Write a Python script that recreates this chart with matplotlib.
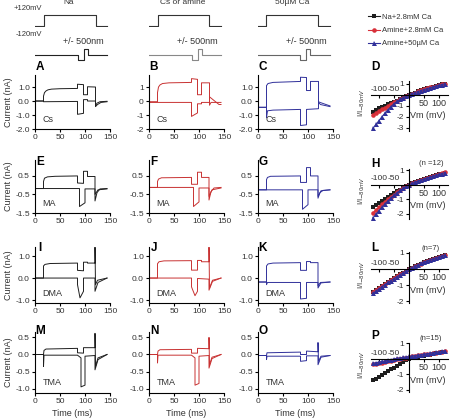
import numpy as np
import matplotlib
matplotlib.use('Agg')
import matplotlib.pyplot as plt
from matplotlib.lines import Line2D

plt.rcParams['font.family'] = ['Liberation Sans', 'DejaVu Sans']
plt.rcParams['font.size'] = 6

W, H = 456, 420
BLACK = '#1e1e1e'
RED = '#c83232'
BLUE = '#30309a'
TXT = '#333333'

# ---- stimulus protocol (ms, mV, nm)
prot_t = [0, 17, 17, 121, 121, 144]
prot_mv = [0, 0, 120, 120, 0, 0]
disp_t = [0, 85, 85, 97, 97, 105, 105, 144]
disp_nm = [0, 0, -500, -500, 500, 500, 0, 0]

# ---- current traces, (time ms, current nA) vertices
# row 1: Cs
A_up = [(0, 0), (17, 0), (17, 0.35), (19, 0.6), (22, 0.72), (26, 0.8), (33, 0.85), (50, 0.88), (85, 0.9),
        (85, 1.2), (97, 1.17), (97, 0.45), (105, 0.45), (105, 1.02), (121, 1.0), (121, -0.35), (124, -0.15),
        (130, -0.05), (144, -0.02)]
A_dn = [(0, 0), (17, 0), (17, -0.05), (85, -0.03), (85, -0.95), (97, -0.88), (97, 0.1), (105, 0.1), (105, 0.0),
        (121, 0.0), (121, -0.4), (125, -0.25), (132, -0.1), (144, -0.05)]
B_up = [(0, -0.05), (17, -0.05), (17, 0.6), (19, 1.0), (22, 1.15), (27, 1.25), (40, 1.3), (85, 1.33),
        (85, 1.6), (97, 1.55), (97, 0.45), (105, 0.45), (105, 1.3), (121, 1.3), (121, -0.3), (124, -0.1),
        (144, -0.1)]
B_dn = [(0, -0.1), (85, -0.1), (85, -1.1), (97, -0.85), (97, -0.2), (105, -0.2), (105, -0.1), (121, -0.1),
        (121, 0.3), (140, -0.25), (144, -0.25)]
C_up = [(0, -0.45), (17, -0.45), (17, 1.1), (20, 1.25), (30, 1.33), (85, 1.4), (85, 1.7), (97, 1.68),
        (97, 0.75), (105, 0.75), (105, 1.4), (121, 1.4), (121, -0.1), (125, -0.25), (144, -0.4)]
C_dn = [(0, -0.45), (17, -0.45), (17, -1.2), (19, -0.7), (30, -0.65), (85, -0.6), (85, -1.75), (97, -1.7),
        (97, -0.6), (121, -0.55), (121, -0.05), (124, -0.1), (144, -0.35)]
# row 2: MA
E_up = [(0, -0.18), (17, -0.18), (17, 0.2), (19, 0.38), (25, 0.45), (40, 0.48), (85, 0.5), (85, 0.12),
        (97, 0.1), (97, 0.75), (105, 0.75), (105, 0.47), (120, 0.47), (120, -0.85), (124, -0.4), (130, -0.2),
        (144, -0.18)]
E_dn = [(0, -0.18), (89, -0.18), (89, -1.15), (100, -0.95), (100, -0.2), (120, -0.2), (120, -0.5), (126, -0.25),
        (144, -0.2)]
F_up = [(0, -0.12), (17, -0.12), (17, 0.2), (19, 0.33), (25, 0.4), (85, 0.42), (85, 0.05), (97, 0.05),
        (97, 0.7), (105, 0.7), (105, 0.42), (120, 0.42), (120, -0.8), (124, -0.35), (130, -0.15), (144, -0.12)]
F_dn = [(0, -0.12), (89, -0.12), (89, -1.15), (100, -0.9), (100, -0.15), (120, -0.15), (120, -0.6),
        (126, -0.25), (144, -0.15)]
G_up = [(0, -0.25), (17, -0.25), (17, 0.3), (19, 0.42), (25, 0.48), (85, 0.5), (85, 0.15), (97, 0.15),
        (97, 0.95), (105, 0.95), (105, 0.5), (120, 0.5), (120, -0.7), (124, -0.4), (130, -0.28), (144, -0.25)]
G_dn = [(0, -0.25), (89, -0.25), (89, -1.3), (100, -1.05), (100, -0.25), (120, -0.25), (120, -0.6),
        (126, -0.3), (144, -0.25)]
# row 3: DMA
I_up = [(0, 0), (17, 0), (17, 0.55), (20, 0.62), (30, 0.66), (85, 0.68), (85, 0.35), (97, 0.33), (97, 0.72),
        (105, 0.72), (105, 0.68), (120, 0.68), (120, 1.4), (121, -0.3), (125, -0.1), (144, 0)]
I_dn = [(0, 0), (85, 0), (85, -0.3), (90, -0.9), (97, -0.6), (97, 0), (120, 0), (120, -0.6), (126, -0.2),
        (144, 0)]
J_up = [(0, 0), (17, 0), (17, 0.65), (20, 0.74), (30, 0.78), (85, 0.79), (85, 0.36), (97, 0.36), (97, 0.8),
        (105, 0.8), (105, 0.74), (120, 0.74), (120, 1.4), (121, -0.45), (127, -0.1), (144, 0)]
J_dn = [(0, 0), (85, 0), (85, -0.4), (92, -0.8), (97, -0.6), (97, -0.02), (120, -0.05), (120, -0.55),
        (127, -0.15), (144, 0)]
K_up = [(0, -0.18), (17, -0.18), (17, 0.55), (20, 0.64), (30, 0.68), (85, 0.7), (85, 0.35), (97, 0.35),
        (97, 0.75), (105, 0.75), (105, 0.7), (120, 0.7), (120, -0.35), (125, -0.2), (144, -0.18)]
K_dn = [(0, -0.18), (17, -0.18), (17, -0.3), (19, -0.2), (85, -0.2), (85, -0.95), (97, -0.92), (97, -0.2),
        (120, -0.2), (120, -0.45), (126, -0.22), (144, -0.18)]
# row 4: TMA
M_up = [(0, 0), (17, 0), (18, 0.12), (22, 0.16), (85, 0.18), (85, 0.05), (97, 0.04), (97, 0.2), (120, 0.2),
        (120, 0.62), (121, -0.35), (126, -0.1), (144, 0)]
M_dn = [(0, 0), (17, 0), (17, -0.35), (18, -0.02), (85, -0.02), (92, -0.1), (92, -0.95), (100, -0.9),
        (100, -0.05), (120, -0.03), (120, -0.45), (126, -0.15), (144, 0)]
N_up = [(0, 0), (17, 0), (18, 0.1), (22, 0.14), (85, 0.15), (85, 0.04), (97, 0.04), (97, 0.18), (120, 0.17),
        (120, 0.5), (121, -0.3), (126, -0.08), (144, 0)]
N_dn = [(0, 0), (17, 0), (17, -0.25), (18, -0.02), (85, -0.02), (92, -0.1), (92, -0.9), (100, -0.85),
        (100, -0.05), (120, -0.03), (120, -0.4), (126, -0.12), (144, 0)]
O_up = [(0, -0.03), (17, -0.03), (18, 0.05), (85, 0.07), (85, 0.0), (97, 0.0), (97, 0.1), (120, 0.08),
        (120, 0.35), (121, -0.2), (126, -0.05), (144, -0.03)]
O_dn = [(0, -0.03), (17, -0.03), (17, -0.15), (18, -0.05), (85, -0.05), (85, -0.2), (97, -0.18), (97, -0.04),
        (120, -0.04), (120, -0.3), (126, -0.08), (144, -0.03)]

# ---- normalised I-V (I / I-80mV)
vm = [-120, -110, -100, -90, -80, -70, -60, -50, -40, -30, -20, -10, 0,
      10, 20, 30, 40, 50, 60, 70, 80, 90, 100, 110, 120]
D_na = [-1.55, -1.40, -1.25, -1.12, -1.0, -0.88, -0.77, -0.66, -0.55, -0.42, -0.29, -0.15, 0.0,
        0.1, 0.2, 0.3, 0.39, 0.48, 0.57, 0.65, 0.73, 0.8, 0.87, 0.94, 1.0]
D_am = [-1.85, -1.68, -1.5, -1.33, -1.17, -1.0, -0.85, -0.7, -0.56, -0.42, -0.28, -0.14, 0.0,
        0.1, 0.2, 0.3, 0.4, 0.49, 0.58, 0.66, 0.74, 0.82, 0.89, 0.96, 1.02]
D_lo = [-3.05, -2.7, -2.35, -2.0, -1.67, -1.36, -1.08, -0.82, -0.6, -0.42, -0.27, -0.13, 0.0,
        0.1, 0.2, 0.29, 0.38, 0.47, 0.55, 0.63, 0.71, 0.79, 0.86, 0.93, 1.0]
H_na = [-1.55, -1.42, -1.28, -1.14, -1.0, -0.87, -0.74, -0.61, -0.48, -0.36, -0.24, -0.12, 0.0,
        0.08, 0.16, 0.24, 0.31, 0.38, 0.45, 0.52, 0.58, 0.64, 0.7, 0.75, 0.8]
H_am = [-1.95, -1.75, -1.56, -1.37, -1.19, -1.02, -0.86, -0.7, -0.55, -0.4, -0.26, -0.13, 0.0,
        0.08, 0.16, 0.24, 0.32, 0.39, 0.46, 0.53, 0.6, 0.66, 0.72, 0.78, 0.83]
H_lo = [-2.3, -2.05, -1.8, -1.56, -1.33, -1.12, -0.92, -0.74, -0.57, -0.41, -0.27, -0.13, 0.0,
        0.08, 0.16, 0.24, 0.31, 0.38, 0.45, 0.52, 0.58, 0.64, 0.7, 0.76, 0.82]
L_na = [-1.45, -1.32, -1.19, -1.06, -0.94, -0.82, -0.7, -0.58, -0.46, -0.34, -0.22, -0.11, 0.0,
        0.09, 0.18, 0.26, 0.34, 0.42, 0.49, 0.56, 0.63, 0.69, 0.75, 0.81, 0.86]
L_am = [-1.42, -1.29, -1.16, -1.04, -0.92, -0.8, -0.68, -0.56, -0.45, -0.33, -0.22, -0.11, 0.0,
        0.09, 0.18, 0.26, 0.34, 0.42, 0.49, 0.56, 0.63, 0.7, 0.76, 0.82, 0.87]
L_lo = [-1.52, -1.38, -1.24, -1.1, -0.97, -0.84, -0.72, -0.6, -0.48, -0.36, -0.24, -0.12, 0.0,
        0.09, 0.18, 0.27, 0.35, 0.43, 0.5, 0.57, 0.64, 0.7, 0.76, 0.82, 0.88]
P_na = [-1.38, -1.27, -1.15, -1.03, -0.91, -0.79, -0.67, -0.55, -0.43, -0.31, -0.2, -0.09, 0.0,
        0.04, 0.08, 0.12, 0.16, 0.2, 0.24, 0.28, 0.32, 0.36, 0.4, 0.44, 0.48]
P_am = [-0.35, -0.31, -0.27, -0.23, -0.19, -0.15, -0.11, -0.07, -0.03, 0.01, 0.05, 0.09, 0.13,
        0.16, 0.19, 0.23, 0.26, 0.29, 0.32, 0.35, 0.38, 0.41, 0.44, 0.47, 0.5]
P_lo = [-0.28, -0.24, -0.2, -0.16, -0.12, -0.08, -0.04, 0.0, 0.04, 0.07, 0.1, 0.13, 0.16,
        0.19, 0.22, 0.25, 0.28, 0.31, 0.34, 0.37, 0.4, 0.43, 0.46, 0.49, 0.53]

series_labels = ['Na+2.8mM Ca', 'Amine+2.8mM Ca', 'Amine+50\u00b5M Ca']
col_titles = ['Na', 'Cs or amine', '50\u00b5M Ca']
row_ions = ['Cs', 'MA', 'DMA', 'TMA']
n_labels = [None, '(n =12)', '(n=7)', '(n=15)']

fig = plt.figure(figsize=(W / 100, H / 100), dpi=100)


def box(x0, y0, x1, y1):
    return fig.add_axes([x0 / W, 1 - y1 / H, (x1 - x0) / W, (y1 - y0) / H])


def ftext(x, y, s, **kw):
    kw.setdefault('color', TXT)
    fig.text(x / W, 1 - y / H, s, **kw)


def style(ax):
    for s in ['top', 'right']:
        ax.spines[s].set_visible(False)
    for s in ['left', 'bottom']:
        ax.spines[s].set_linewidth(0.8)
    ax.tick_params(length=2.5, width=0.8, pad=1.2, labelsize=6, colors='black', labelcolor=TXT)


cols_x = [(35, 110), (149, 224), (258, 333)]
rows_y = [(75, 129), (160, 213), (247, 302.5), (332, 393)]
row_lims = [(-2.0, 1.86), (-1.5, 1.36), (-1.11, 1.41), (-1.13, 0.66)]
row_ticks = [[-2, -1, 0, 1], [-1.5, -0.5, 0.5], [-1, 0, 1], [-1, -0.5, 0, 0.5]]
col_colors = [BLACK, RED, BLUE]
traces = [[(A_up, A_dn), (B_up, B_dn), (C_up, C_dn)],
          [(E_up, E_dn), (F_up, F_dn), (G_up, G_dn)],
          [(I_up, I_dn), (J_up, J_dn), (K_up, K_dn)],
          [(M_up, M_dn), (N_up, N_dn), (O_up, O_dn)]]
letters = [['A', 'B', 'C', 'D'], ['E', 'F', 'G', 'H'], ['I', 'J', 'K', 'L'], ['M', 'N', 'O', 'P']]
letter_y = [67, 162, 248, 331]

# protocol panels
disp_colors = ['#222222', '#888888', '#666666']
for c, (x0, x1) in enumerate(cols_x):
    pv = box(x0, 14, x1, 27)
    pv.plot(prot_t, prot_mv, color='#333333', lw=0.8)
    pv.set_xlim(0, 150)
    pv.set_ylim(-11, 131)
    pv.axis('off')
    pd_ = box(x0, 47.3, x1, 61.7)
    pd_.plot(disp_t, disp_nm, color=disp_colors[c], lw=0.8)
    pd_.set_xlim(0, 150)
    pd_.set_ylim(-600, 600)
    pd_.axis('off')
    ftext(x0 + (x1 - x0) * 0.64, 42, '+/- 500nm', fontsize=6.5, ha='center', va='center')
    ftext(x0 + (x1 - x0) * 0.45, 2, col_titles[c], fontsize=6, ha='center', va='center')
ftext(28, 9, '+120mV', fontsize=5.5, ha='center', va='center')
ftext(29, 35, '-120mV', fontsize=5.5, ha='center', va='center')

# current traces
for r, (y0, y1) in enumerate(rows_y):
    for c, (x0, x1) in enumerate(cols_x):
        ax = box(x0, y0, x1, y1)
        style(ax)
        for tr in traces[r][c]:
            t, i = zip(*tr)
            ax.plot(t, i, color=col_colors[c], lw=0.7)
        ax.set_xlim(0, 150)
        ax.set_ylim(*row_lims[r])
        ax.set_xticks([0, 50, 100, 150])
        ax.set_yticks(row_ticks[r])
        if r == 0 and c == 1:
            ax.set_yticklabels(['%d' % v for v in row_ticks[r]])
        else:
            ax.set_yticklabels(['%.1f' % v for v in row_ticks[r]])
        ax.text(0.1, 0.17, row_ions[r], transform=ax.transAxes, fontsize=6.5, color=TXT,
                ha='left', va='center')
        ftext(x0 + 5, letter_y[r], letters[r][c], fontsize=8.5, fontweight='bold', ha='center', va='center',
              color='black')
        if r == 3:
            ftext((x0 + x1) / 2, 413, 'Time (ms)', fontsize=6.5, ha='center', va='center')
    ftext(9, (y0 + y1) / 2, 'Current (nA)', fontsize=6.5, rotation=90, ha='center', va='center')

# I-V panels
iv_rows = [(81, 131), (169.3, 218.6), (252.2, 302.6), (342.7, 392.3)]
iv_lims = [(-3.3, 1.25), (-2.35, 1.05), (-2.1, 1.05), (-2.15, 1.05)]
iv_ticks = [[-3, -2, -1, 1], [-2, -1, 1], [-2, -1, 1], [-2, -1, 1]]
iv_data = [(D_na, D_am, D_lo), (H_na, H_am, H_lo), (L_na, L_am, L_lo), (P_na, P_am, P_lo)]
iv_style = [('s', BLACK, 3.2), ('o', '#d8303a', 3.3), ('^', BLUE, 3.6)]
iv_letter_y = [67, 164, 248, 336]
for r, (y0, y1) in enumerate(iv_rows):
    ax = box(371.5, y0, 448, y1)
    style(ax)
    ax.spines['left'].set_position(('data', 0))
    ax.spines['bottom'].set_position(('data', 0))
    for vals, (mk, col, ms) in zip(iv_data[r], iv_style):
        ax.plot(vm, vals, marker=mk, color=col, ms=ms, lw=0.8, mew=0, clip_on=False)
    ax.set_xlim(-125, 130)
    ax.set_ylim(*iv_lims[r])
    ax.set_yticks(iv_ticks[r])
    ax.set_yticklabels(['%d' % v for v in iv_ticks[r]])
    ax.set_xticks([-100, -50, 50, 100])
    ax.set_xticklabels([])
    for v in [-100, -50]:
        ax.annotate('%d' % v, (v, 0), xytext=(0, 1.5), textcoords='offset points', ha='center',
                    va='bottom', fontsize=6, color=TXT)
    for v in [50, 100]:
        ax.annotate('%d' % v, (v, 0), xytext=(0, -3), textcoords='offset points', ha='center',
                    va='top', fontsize=6.5, color=TXT)
    ax.annotate('Vm (mV)', (62, 0), xytext=(0, -12), textcoords='offset points', ha='center',
                va='top', fontsize=6.5, color=TXT)
    ftext(375, iv_letter_y[r], letters[r][3], fontsize=8.5, fontweight='bold', ha='center', va='center',
          color='black')
    ftext(362, (y0 + y1) / 2 - 3, 'I/I$_{-80mV}$', fontsize=5.5, rotation=90, ha='center', va='center')
    if n_labels[r]:
        ftext(431, y0 - 6 if r == 1 else y0 - 4, n_labels[r], fontsize=5.5, ha='center', va='center')

handles = [Line2D([], [], marker=mk, color=col, ms=ms, lw=0.8, mew=0) for mk, col, ms in iv_style]
fig.legend(handles, series_labels, loc='upper left', bbox_to_anchor=(364 / W, 1 - 10 / H), frameon=False,
           fontsize=5.5, handlelength=1.6, handletextpad=0.2, labelspacing=0.75, borderpad=0,
           labelcolor=TXT)

fig.savefig('out.png', dpi=100)
